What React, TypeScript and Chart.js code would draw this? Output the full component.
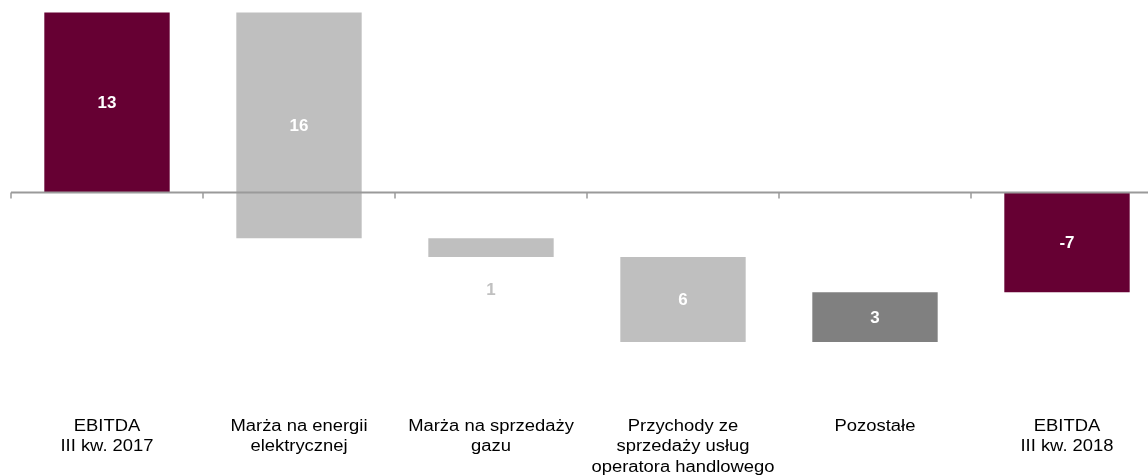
import React, { useEffect, useRef } from 'react';
import { Chart, registerables } from 'chart.js';

Chart.register(...registerables);

const categories: string[][] = [
  ['EBITDA', 'III kw. 2017'],
  ['Marża na energii', 'elektrycznej'],
  ['Marża na sprzedaży', 'gazu'],
  ['Przychody ze', 'sprzedaży usług', 'operatora handlowego'],
  ['Pozostałe'],
  ['EBITDA', 'III kw. 2018'],
];
const barStart = [0, 13, -3.3, -4.65, -10.8, 0];
const barEnd = [13, -3.3, -4.65, -10.8, -7.2, -7.2];
const valueLabels = ['13', '16', '1', '6', '3', '-7'];
const barColors = ['#660033', '#bfbfbf', '#bfbfbf', '#bfbfbf', '#808080', '#660033'];

const FONT = 'Arial, "Liberation Sans", sans-serif';

const decorPlugin = {
  id: 'waterfallDecor',
  afterDatasetsDraw(chart: any) {
    const { ctx, chartArea, scales } = chart;
    const y0 = scales.y.getPixelForValue(0);
    ctx.save();
    ctx.strokeStyle = '#9a9a9a';
    ctx.lineWidth = 2;
    ctx.beginPath();
    ctx.moveTo(chartArea.left, y0);
    ctx.lineTo(chartArea.right, y0);
    ctx.stroke();
    const n = categories.length;
    const w = (chartArea.right - chartArea.left) / n;
    ctx.lineWidth = 1.5;
    for (let i = 0; i <= n; i++) {
      const x = chartArea.left + i * w;
      ctx.beginPath();
      ctx.moveTo(x, y0);
      ctx.lineTo(x, y0 + 6);
      ctx.stroke();
    }
    // value labels
    const meta = chart.getDatasetMeta(0);
    ctx.font = 'bold 16px ' + FONT;
    ctx.textAlign = 'center';
    ctx.textBaseline = 'middle';
    meta.data.forEach((bar: any, i: number) => {
      const { x, y, base } = bar.getProps(['x', 'y', 'base'], true);
      const top = Math.min(y, base);
      const bottom = Math.max(y, base);
      let ty: number;
      if (bottom - top < 25) {
        ctx.fillStyle = '#c0c0c0';
        ty = bottom + 34;
      } else {
        ctx.fillStyle = '#ffffff';
        ty = (top + bottom) / 2 + 1;
      }
      ctx.save();
      ctx.translate(x, ty);
      ctx.scale(1.06, 1);
      ctx.fillText(valueLabels[i], 0, 0);
      ctx.restore();
    });
    // category labels
    ctx.font = '16px ' + FONT;
    ctx.fillStyle = '#000000';
    categories.forEach((lines, i) => {
      const x = scales.x.getPixelForValue(i);
      lines.forEach((line, j) => {
        ctx.save();
        ctx.translate(x, 426.5 + j * 20.5);
        ctx.scale(1.15, 1);
        ctx.fillText(line, 0, 0);
        ctx.restore();
      });
    });
    ctx.restore();
  },
};

export default function App() {
  const ref = useRef<HTMLCanvasElement | null>(null);
  useEffect(() => {
    if (!ref.current) return;
    const chart = new Chart(ref.current, {
      type: 'bar',
      data: {
        labels: categories.map((c) => c.join(' ')),
        datasets: [
          {
            data: barStart.map((s, i) => [s, barEnd[i]]) as any,
            backgroundColor: barColors,
            borderWidth: 0,
            barPercentage: 0.653,
            categoryPercentage: 1,
          },
        ],
      },
      options: {
        responsive: false,
        animation: false,
        devicePixelRatio: 1,
        layout: { padding: { left: 11, right: 0, top: 0, bottom: 64 } },
        plugins: { legend: { display: false }, tooltip: { enabled: false } },
        scales: {
          x: {
            grid: { display: false, drawTicks: false },
            border: { display: false },
            ticks: { display: false },
          },
          y: {
            display: false,
            min: -15.85,
            max: 13.9,
            grid: { display: false },
          },
        },
      },
      plugins: [decorPlugin],
    });
    return () => chart.destroy();
  }, []);
  return (
    <div style={{ position: 'fixed', left: 0, top: 0, width: 1148, height: 476, overflow: 'hidden', background: '#fff' }}>
      <canvas ref={ref} width={1163} height={476} style={{ display: 'block' }} />
    </div>
  );
}
